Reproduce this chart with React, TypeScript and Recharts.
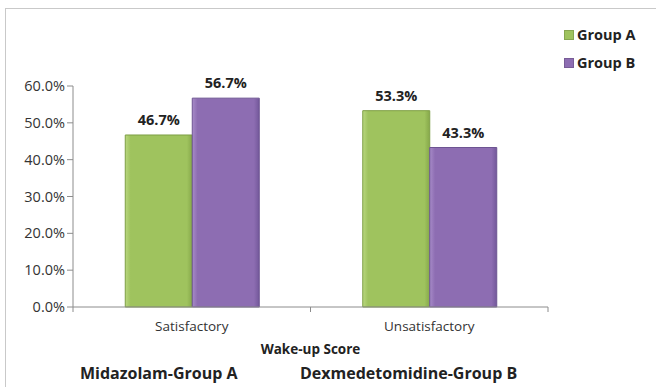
import { BarChart, Bar, XAxis, YAxis, LabelList } from 'recharts';

// Wake-up score distribution per group (fractions of patients)
const categories = ['Satisfactory', 'Unsatisfactory'];
const groupA = [0.467, 0.533];
const groupB = [0.567, 0.433];
const yTicks = [0, 0.1, 0.2, 0.3, 0.4, 0.5, 0.6];

const data = categories.map((name, i) => ({ name, groupA: groupA[i], groupB: groupB[i] }));

const FONT = '"Open Sans", "Liberation Sans", sans-serif';
const GREEN = '#9fc35e';
const PURPLE = '#8d6db2';

const pct = (v: number) => `${(v * 100).toFixed(1)}%`;

// Excel-style category ticks: label in the middle, tick marks on the band edges
const CategoryTick = (props: any) => {
    const { x, y, payload, index } = props;
    const half = payload.offset || 0;
    return (
        <g>
            {index === 0 && <line x1={x - half} x2={x - half} y1={y - 8} y2={y - 3} stroke="#8c8c8c" />}
            <line x1={x + half} x2={x + half} y1={y - 8} y2={y - 3} stroke="#8c8c8c" />
            <text x={x} y={y + 16} textAnchor="middle" fill="#333" fontSize={13.5} fontFamily={FONT}>
                {payload.value}
            </text>
        </g>
    );
};

const legendItems = [{ label: 'Group A', color: GREEN }, { label: 'Group B', color: PURPLE }];

const footStyle = {
    position: 'absolute' as const, top: 365, lineHeight: '16px',
    fontFamily: FONT, fontSize: 16, fontWeight: 700, color: '#222'
};

export default function App() {
    return (
        <div style={{ position: 'absolute', left: 0, top: 0, width: 656, height: 387, background: '#fff', overflow: 'hidden' }}>
            <div style={{
                position: 'absolute', left: 5, top: 8, width: 651, height: 379, boxSizing: 'border-box',
                borderLeft: '1px solid #c9c9c9', borderTop: '1px solid #c9c9c9'
            }} />
            <BarChart
                width={656}
                height={387}
                data={data}
                margin={{ top: 86, right: 108, bottom: 50, left: 13 }}
                barCategoryGap="22%"
                barGap={0}
                style={{ position: 'absolute', left: 0, top: 0 }}
            >
                <defs>
                    <linearGradient id="gA" x1="0" y1="0" x2="1" y2="0">
                        <stop offset="0%" stopColor="#b9d77f" />
                        <stop offset="8%" stopColor={GREEN} />
                        <stop offset="92%" stopColor={GREEN} />
                        <stop offset="100%" stopColor="#86a84a" />
                    </linearGradient>
                    <linearGradient id="gB" x1="0" y1="0" x2="1" y2="0">
                        <stop offset="0%" stopColor="#a78bc8" />
                        <stop offset="8%" stopColor={PURPLE} />
                        <stop offset="92%" stopColor={PURPLE} />
                        <stop offset="100%" stopColor="#73589a" />
                    </linearGradient>
                </defs>
                <XAxis
                    dataKey="name"
                    axisLine={{ stroke: '#8c8c8c' }}
                    tickLine={false}
                    tick={<CategoryTick />}
                    height={30}
                />
                <YAxis
                    domain={[0, 0.6]}
                    ticks={yTicks}
                    tickFormatter={pct}
                    width={60}
                    axisLine={{ stroke: '#8c8c8c' }}
                    tickLine={{ stroke: '#8c8c8c' }}
                    tickSize={6}
                    tick={{ fill: '#333', fontSize: 14.5, fontFamily: FONT }}
                />
                <Bar dataKey="groupA" name="Group A" fill="url(#gA)" stroke="#7e9f44" strokeWidth={1} isAnimationActive={false}>
                    <LabelList dataKey="groupA" position="top" offset={10} formatter={(v: any) => pct(Number(v))}
                        style={{ fill: '#222', fontSize: 14.5, fontWeight: 700, fontFamily: FONT }} />
                </Bar>
                <Bar dataKey="groupB" name="Group B" fill="url(#gB)" stroke="#6d5492" strokeWidth={1} isAnimationActive={false}>
                    <LabelList dataKey="groupB" position="top" offset={10} formatter={(v: any) => pct(Number(v))}
                        style={{ fill: '#222', fontSize: 14.5, fontWeight: 700, fontFamily: FONT }} />
                </Bar>
            </BarChart>
            <div style={{
                position: 'absolute', left: 564, top: 21, fontFamily: FONT, fontSize: 14.5,
                fontWeight: 700, color: '#222', lineHeight: '28px'
            }}>
                {legendItems.map(item => (
                    <div key={item.label} style={{ display: 'flex', alignItems: 'center' }}>
                        <span style={{
                            display: 'inline-block', width: 8, height: 8, marginRight: 3,
                            background: item.color, border: '1px solid rgba(0,0,0,0.15)'
                        }} />
                        {item.label}
                    </div>
                ))}
            </div>
            <div style={{
                position: 'absolute', left: 73, width: 475, top: 340, textAlign: 'center',
                fontFamily: FONT, fontSize: 13.5, fontWeight: 700, color: '#222'
            }}>
                Wake-up Score
            </div>
            <div style={{ ...footStyle, left: 80 }}>Midazolam-Group A</div>
            <div style={{ ...footStyle, left: 300 }}>Dexmedetomidine-Group B</div>
        </div>
    );
}
